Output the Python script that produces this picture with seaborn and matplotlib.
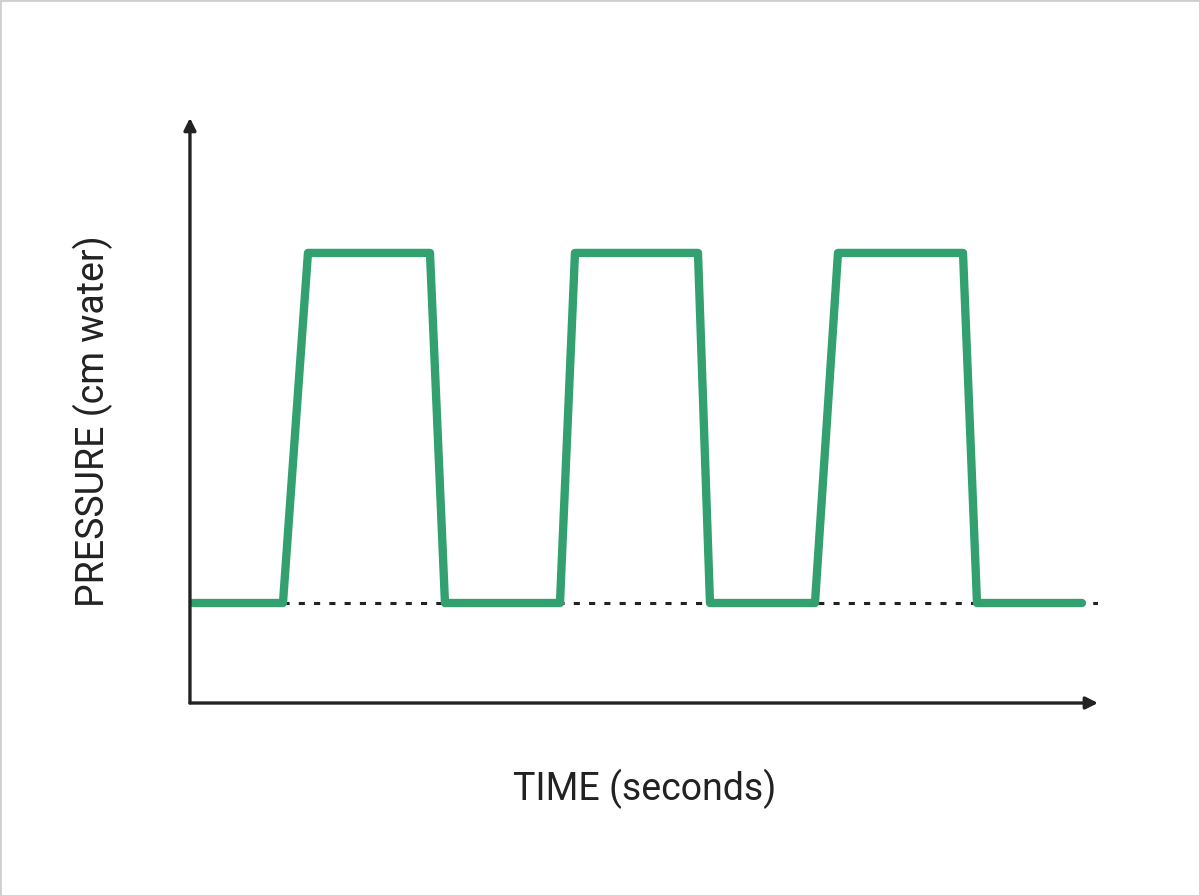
import matplotlib
matplotlib.use("Agg")
import matplotlib.pyplot as plt
import seaborn as sns
import pandas as pd
from matplotlib.patches import Rectangle

sns.set_theme(style="white")
plt.rcParams['font.family'] = ['Roboto', 'DejaVu Sans']

time_s = [0.3, 9.3, 11.8, 24.0, 25.5, 37.0, 38.5, 50.8, 52.0, 62.5, 64.8, 77.3, 78.7, 89.2]
pressure = [10, 10, 45, 45, 10, 10, 45, 45, 10, 10, 45, 45, 10, 10]
baseline_t = [9.3, 90.8]
baseline_p = [10, 10]

fig = plt.figure(figsize=(12, 8.96), dpi=100)
fig.patches.append(Rectangle((0, 0), 1, 1, transform=fig.transFigure, fill=False,
                             edgecolor="#cfcfcf", linewidth=2))
ax = fig.add_axes([0.1583, 0.2154, 0.7567, 0.653])
df = pd.DataFrame({"t": time_s, "p": pressure})
ax.plot(baseline_t, baseline_p, color="#222222", linestyle=(0, (2, 3)), linewidth=2.2, zorder=1)
sns.lineplot(data=df, x="t", y="p", ax=ax, color="#33a06f", linewidth=6, sort=False,
             estimator=None, zorder=2)
ax.set_xlim(0, 90.8)
ax.set_ylim(0, 58.5)
for s in ax.spines.values():
    s.set_visible(False)
ax.set_xticks([]); ax.set_yticks([])
arr = dict(arrowstyle="-|>,head_length=0.6,head_width=0.3", color="#222222", lw=2.4,
           shrinkA=0, shrinkB=0)
ax.annotate("", xy=(1, 0), xytext=(0, 0), xycoords="axes fraction", arrowprops=arr, annotation_clip=False)
ax.annotate("", xy=(0, 1), xytext=(0, 0), xycoords="axes fraction", arrowprops=arr, annotation_clip=False)
ax.set_xlabel("")
ax.set_ylabel("")
fig.text(0.537, 0.12, "TIME (seconds)", ha="center", va="center", fontsize=27, color="#222222")
fig.text(0.077, 0.53, "PRESSURE (cm water)", ha="center", va="center", rotation=90,
         fontsize=27, color="#222222")
fig.savefig("out.png", dpi=100, facecolor="white")
